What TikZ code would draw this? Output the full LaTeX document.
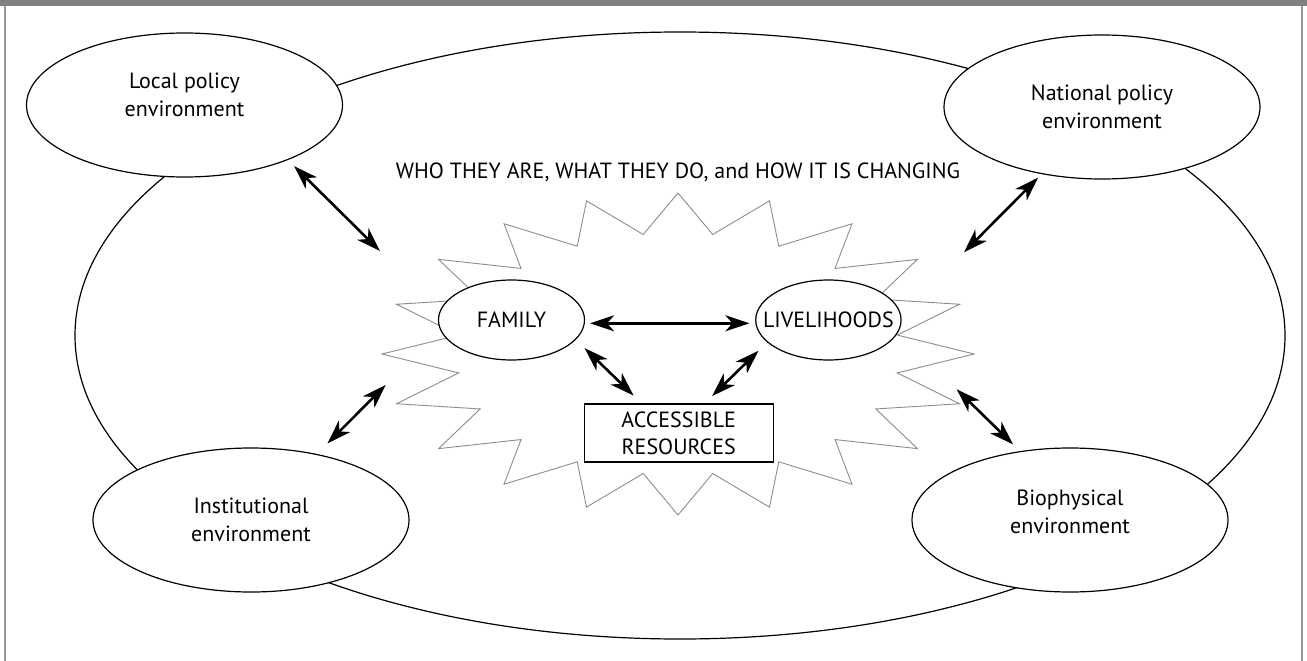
\documentclass[tikz,border=0pt]{standalone}
\usepackage{fontspec}
\setmainfont{PT Sans}
\usetikzlibrary{shapes.geometric,arrows.meta}
\tikzset{
>={Stealth[length=24pt,width=16pt,inset=7pt]},
link/.style={<->, line width=2.6pt},
env/.style={ellipse, draw, fill=white, line width=1.2pt, minimum width=316pt, minimum height=144pt, inner sep=0pt, align=center, font=\fontsize{22}{28}\selectfont},
core/.style={ellipse, draw, fill=white, line width=1.2pt, minimum height=80pt, inner sep=0pt, font=\fontsize{22}{26}\selectfont},
resbox/.style={draw, fill=white, line width=1.2pt, minimum width=189pt, minimum height=58pt, inner sep=0pt, align=center, font=\fontsize{22}{27}\selectfont},
burst/.style={draw=gray!90, line width=0.9pt, line join=miter},
frame/.style={draw=gray!80, line width=1.3pt},
}
\begin{document}
\begin{tikzpicture}[x=1pt, y=-1pt]

    \useasboundingbox (0,0) rectangle (1307,661);
    \fill[gray] (0,0) rectangle (1307,6);
    \draw[frame] (5,6) -- (5,661);
    \draw[frame] (1302,6) -- (1302,661);

    % outer ring
    \draw[line width=1.2pt] (680,335.5) ellipse [x radius=605, y radius=303.5];

    % star
    \draw[burst] (974,354)
      \foreach \k in {0,...,19}{
        -- ({678+222*cos(\k*18+9)},{354-121*sin(\k*18+9)})
        -- ({678+296*cos(\k*18+18)},{354-161*sin(\k*18+18)})
      } -- cycle;

    \node[anchor=base, font=\fontsize{22}{26}\selectfont] (title) at (678,178) {WHO THEY ARE, WHAT THEY DO, and HOW IT IS CHANGING};

    \node[env] (local) at (184.5,105) {Local policy\\environment\\[-8pt]\mbox{}};
    \node[env] (national) at (1102,107) {National policy\\environment};
    \node[env] (inst) at (251,520) {\mbox{}\\[-12pt]Institutional\\environment};
    \node[env] (bio) at (1070,520) {Biophysical\\environment\\[-12pt]\mbox{}};

    \node[core, minimum width=146pt] (family) at (511.5,320) {FAMILY};
    \node[core, minimum width=145pt, inner xsep=-14pt] (liveli) at (828.4,320) {LIVELIHOODS};
    \node[resbox] (access) at (678.7,433) {ACCESSIBLE\\RESOURCES};

    \coordinate (locend) at (380,251);
    \coordinate (natend) at (964,252.3);
    \coordinate (instend) at (385.7,385);
    \coordinate (bioend) at (956.7,389.3);

    \draw[link, shorten <=8.7pt] (local.-28) -- (locend);
    \draw[link, shorten <=5pt] (national.228.5) -- (natend);
    \draw[link, shorten <=14.8pt] (inst.45) -- (instend);
    \draw[link, shorten <=9.6pt] (bio.126.5) -- (bioend);

    \draw[link, shorten <=5pt, shorten >=5.7pt] ([yshift=-3.3pt]family.east) -- ([yshift=-3.3pt]liveli.west);
    \draw[link, shorten <=12.2pt, shorten >=11.3pt] (family.-17) -- ([xshift=-37pt]access.north);
    \draw[link, shorten <=12.1pt, shorten >=10.4pt] (liveli.200) -- ([xshift=25.9pt]access.north);

\end{tikzpicture}
\end{document}
